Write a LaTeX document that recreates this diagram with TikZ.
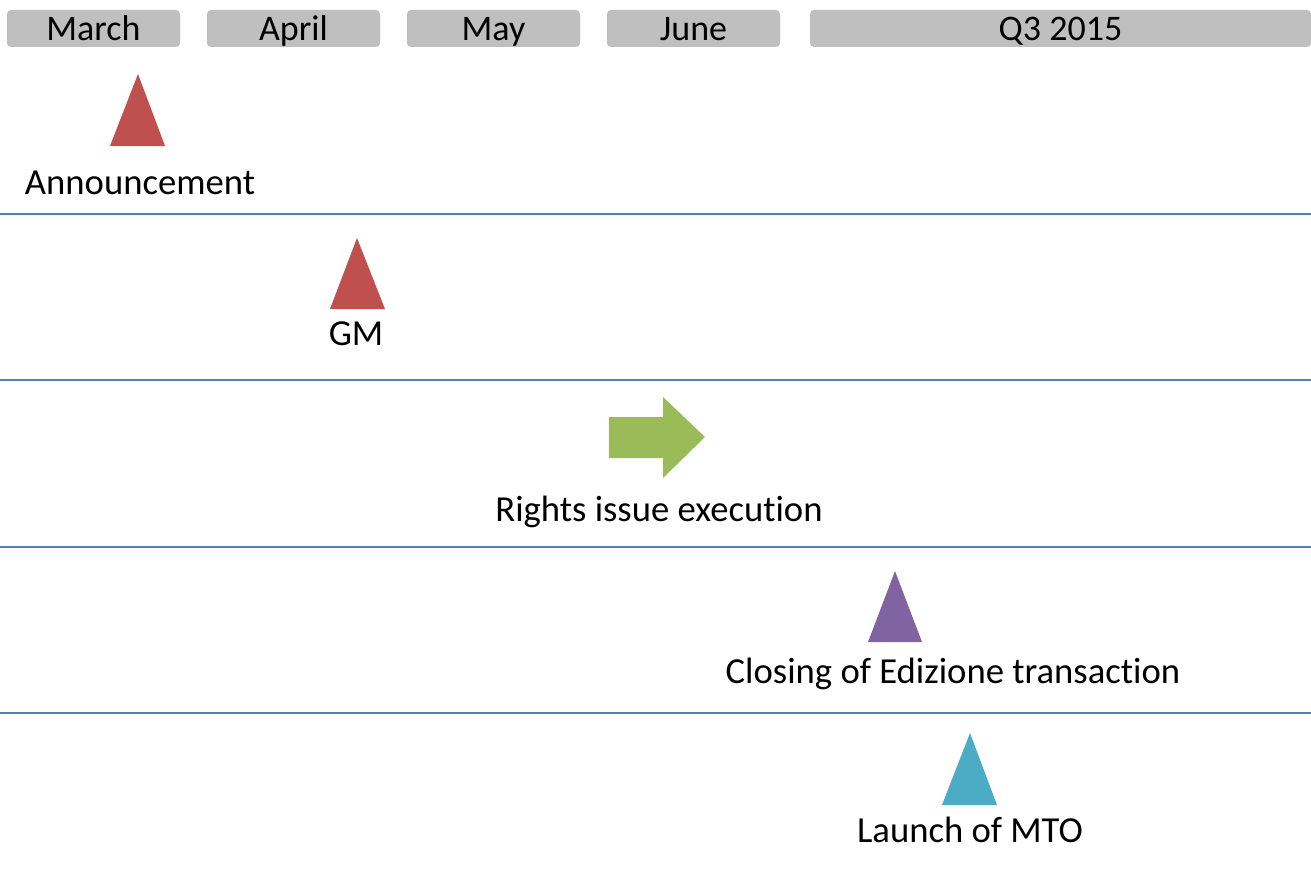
\documentclass[tikz,border=0pt]{standalone}
\usepackage{fontspec}
\setmainfont[Ligatures=NoCommon]{Carlito}
\definecolor{hdr}{HTML}{BFBFBF}
\definecolor{sep}{HTML}{4F81BD}
\definecolor{redm}{HTML}{C0504D}
\definecolor{greenm}{HTML}{9BBB59}
\definecolor{purplem}{HTML}{8064A2}
\definecolor{tealm}{HTML}{4BACC6}
\tikzset{
  hdrtext/.style={font=\fontsize{27}{32}\selectfont, text=black, inner sep=0pt, anchor=base},
  lbl/.style={font=\fontsize{27.5}{32}\selectfont, text=black, inner sep=0pt, anchor=base},
  sepline/.style={draw=sep, line width=1.5pt},
}
\begin{document}
\begin{tikzpicture}[x=0.75pt,y=-0.75pt]
\useasboundingbox (0,0) rectangle (1311,874);
% header
\foreach \xa/\xb/\t/\n in {7/180/March/h1, 207/380/April/h2, 407/580/May/h3, 607/780/June/h4, 810/1311/Q3 2015/h5}{
  \fill[hdr, rounded corners=3pt] (\xa,10) rectangle (\xb,47);
  \node[hdrtext] (\n) at ({(\xa+\xb)/2},41) {\t};
}
% separators
\foreach \y in {214,380,547,713}{
  \draw[sepline] (0,\y) -- (1311,\y);
}
% milestones
\fill[redm] (138,74) -- (165,146) -- (110,146) -- cycle;
\node[lbl] (ann) at (140,194) {Announcement};
\fill[redm] (357,238) -- (385,309) -- (330,309) -- cycle;
\node[lbl] (gm) at (356,345) {GM};
\fill[greenm] (609,417) -- (663,417) -- (663,397) -- (705,437) -- (663,478) -- (663,458) -- (609,458) -- cycle;
\node[lbl] (rie) at (659,521) {Rights issue execution};
\fill[purplem] (895,571) -- (922,642) -- (868,642) -- cycle;
\node[lbl] (cet) at (953,683) {Closing of Edizione transaction};
\fill[tealm] (970,733) -- (997,805) -- (942,805) -- cycle;
\node[lbl] (mto) at (970,842) {Launch of MTO};
\end{tikzpicture}
\end{document}
